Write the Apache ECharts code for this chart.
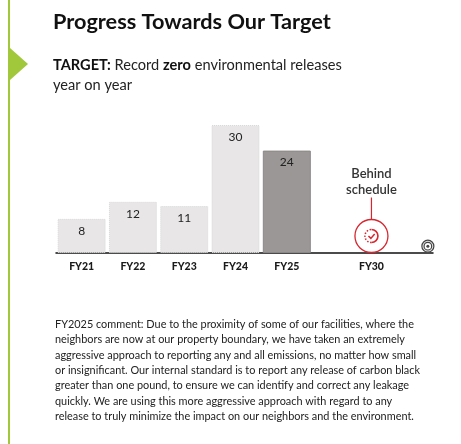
<!DOCTYPE html>
<html>
<head>
<meta charset="utf-8">
<script src="https://cdn.jsdelivr.net/npm/echarts@6/dist/echarts.min.js"></script>
<style>
  html, body { margin: 0; padding: 0; background: #fff; }
  #chart { width: 461px; height: 444px; }
</style>
</head>
<body>
<div id="chart"></div>
<script>
// data
const categories = ['FY21', 'FY22', 'FY23', 'FY24', 'FY25'];
const releases = [8, 12, 11, 30, 24];
const currentIdx = 4; // FY25 highlighted
const targetYear = 'FY30';
const targetPos = 5.65; // FY30 sits off the regular slot grid
const goalPos = 6.75;   // bullseye at the end of the axis
const statusText = 'Behind\nschedule';

const commentLines = [
  'FY2025 comment: Due to the proximity of some of our facilities, where the',
  'neighbors are now at our property boundary, we have taken an extremely',
  'aggressive approach to reporting any and all emissions, no matter how small',
  'or insignificant. Our internal standard is to report any release of carbon black',
  'greater than one pound, to ensure we can identify and correct any leakage',
  'quickly. We are using this more aggressive approach with regard to any',
  'release to truly minimize the impact on our neighbors and the environment.'
];

const labelPos = categories.map((c, i) => i).concat([targetPos]);
const labelNames = categories.concat([targetYear]);

const FONT = 'Lato, "Open Sans", sans-serif';
const GREEN = '#a0c83a';
const RED = '#d7262f';

const chart = echarts.init(document.getElementById('chart'));

const barData = releases.map((v, i) => ({
  value: [i, v],
  itemStyle: i === currentIdx
    ? { color: '#9b9796', borderColor: '#8c8887', borderWidth: 1 }
    : { color: '#e8e6e7', borderColor: '#dad8d9', borderWidth: 1, borderType: 'dotted' }
}));

const option = {
  backgroundColor: '#fff',
  animation: false,
  grid: { left: 56, right: 28, top: 125, bottom: 191 },
  xAxis: {
    type: 'value',
    min: -0.5,
    max: 6.85,
    splitLine: { show: false },
    axisTick: { show: false },
    axisLine: { show: true, onZero: true, lineStyle: { color: '#111', width: 1.5 } },
    axisLabel: {
      customValues: labelPos,
      margin: 8,
      fontFamily: FONT,
      fontWeight: 900,
      fontSize: 10.5,
      color: '#1a1a1a',
      formatter: function (val) {
        const i = labelPos.findIndex(p => Math.abs(p - val) < 1e-6);
        return i >= 0 ? labelNames[i] : '';
      }
    }
  },
  yAxis: {
    type: 'value',
    min: 0,
    max: 30,
    show: false,
    splitLine: { show: false }
  },
  series: [
    {
      type: 'bar',
      barWidth: 48,
      data: barData,
      label: {
        show: true,
        position: 'insideTop',
        distance: 6,
        fontFamily: FONT,
        fontSize: 12,
        color: '#222',
        formatter: p => p.value[1]
      },
      z: 2
    },
    {
      // FY30 status marker
      type: 'custom',
      data: [[targetPos, 0]],
      z: 5,
      renderItem: function (params, api) {
        const p = api.coord([api.value(0), api.value(1)]);
        const r = 16.5;
        const cx = p[0];
        const cy = p[1] - r - 0.5;
        const ri = 6.5;
        return {
          type: 'group',
          children: [
            { type: 'line', shape: { x1: cx, y1: cy - r, x2: cx, y2: cy - r - 22 },
              style: { stroke: RED, lineWidth: 1.2 } },
            { type: 'circle', shape: { cx: cx, cy: cy, r: r },
              style: { fill: '#fff', stroke: RED, lineWidth: 1.3 } },
            { type: 'arc', shape: { cx: cx, cy: cy, r: ri, startAngle: -Math.PI / 2, endAngle: Math.PI / 2 },
              style: { fill: null, stroke: RED, lineWidth: 1.6 } },
            { type: 'arc', shape: { cx: cx, cy: cy, r: ri, startAngle: Math.PI / 2, endAngle: Math.PI * 1.5 },
              style: { fill: null, stroke: RED, lineWidth: 1.6, lineDash: [1.4, 1.6] } },
            { type: 'polyline', shape: { points: [[cx - 3, cy], [cx - 0.6, cy + 2.4], [cx + 3.2, cy - 2]] },
              style: { fill: null, stroke: RED, lineWidth: 1.5 } },
            { type: 'text', x: cx, y: cy - r - 53,
              style: { text: statusText, fontFamily: FONT, fontSize: 13, fontWeight: 600,
                fill: '#333', align: 'center', verticalAlign: 'top', lineHeight: 15.5 } }
          ]
        };
      }
    },
    {
      // bullseye at the end of the timeline
      type: 'custom',
      data: [[goalPos, 0]],
      z: 5,
      renderItem: function (params, api) {
        const p = api.coord([api.value(0), api.value(1)]);
        const cx = p[0];
        const cy = p[1] - 6.8;
        return {
          type: 'group',
          children: [
            { type: 'circle', shape: { cx: cx, cy: cy, r: 6 }, style: { fill: '#e8e8e8', stroke: '#444', lineWidth: 1.2 } },
            { type: 'circle', shape: { cx: cx, cy: cy, r: 3.8 }, style: { fill: '#fff', stroke: '#444', lineWidth: 1.2 } },
            { type: 'circle', shape: { cx: cx, cy: cy, r: 1.5 }, style: { fill: '#444' } }
          ]
        };
      }
    }
  ],
  graphic: [
    { type: 'rect', left: 8, top: 0, shape: { width: 2, height: 444 }, style: { fill: GREEN } },
    { type: 'polygon', shape: { points: [[10, 48], [28, 64], [10, 80]] }, style: { fill: GREEN } },
    { type: 'text', left: 53, top: 11,
      style: { text: 'Progress Towards Our Target', fontFamily: FONT, fontSize: 21.7, fontWeight: 'bold', fill: '#111' } },
    { type: 'text', left: 53, top: 55,
      style: {
        text: '{b|TARGET:} Record {b|zero} environmental releases\nyear on year',
        fontFamily: FONT, fontSize: 14.6, fill: '#222', lineHeight: 20.5,
        rich: { b: { fontFamily: FONT, fontSize: 14.6, fontWeight: 'bold', fill: '#111' } }
      } },
    { type: 'text', left: 55, top: 317,
      style: { text: commentLines.join('\n'), fontFamily: FONT, fontSize: 10.9, fill: '#222', lineHeight: 15.3 } }
  ]
};

chart.setOption(option);
</script>
</body>
</html>
